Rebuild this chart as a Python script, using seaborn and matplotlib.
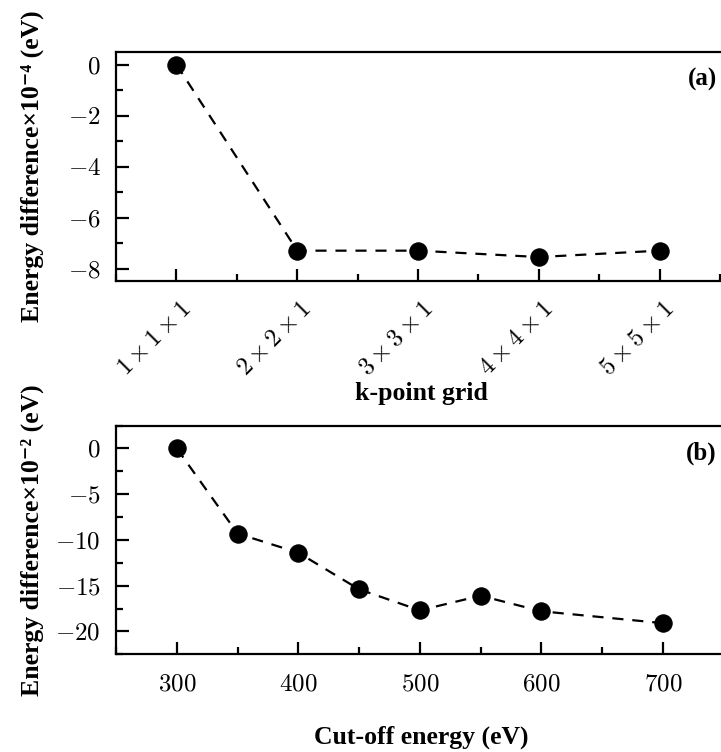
import matplotlib
matplotlib.use("Agg")
import matplotlib.pyplot as plt
import matplotlib.transforms as mtransforms
import numpy as np
import pandas as pd
import seaborn as sns
from matplotlib.ticker import MultipleLocator, FuncFormatter

# data
kgrid_labels = [r"$1\times1\times1$", r"$2\times2\times1$", r"$3\times3\times1$",
                r"$4\times4\times1$", r"$5\times5\times1$"]
kgrid_energy = [0.0, -7.3, -7.3, -7.55, -7.3]  # x 10^-4 eV
cutoff = [300, 350, 400, 450, 500, 550, 600, 700]
cutoff_energy = [0.0, -9.3, -11.4, -15.4, -17.7, -16.1, -17.8, -19.1]  # x 10^-2 eV

sns.set_style("ticks")
plt.rcParams["font.family"] = ["Liberation Serif", "DejaVu Serif"]
plt.rcParams["mathtext.fontset"] = "cm"
plt.rcParams["axes.linewidth"] = 1.6
for key in ("axes.edgecolor", "xtick.color", "ytick.color", "text.color",
            "axes.labelcolor"):
    plt.rcParams[key] = "black"

df_k = pd.DataFrame({"pos": np.arange(len(kgrid_labels)), "E": kgrid_energy})
df_c = pd.DataFrame({"cut": cutoff, "E": cutoff_energy})

fig = plt.figure(figsize=(7.21, 7.52), dpi=100)
ax1 = fig.add_axes([0.161, 0.626, 0.846, 0.305])
ax2 = fig.add_axes([0.161, 0.130, 0.846, 0.304])

line_kw = dict(color="black", linestyle=(0, (5, 4)), linewidth=1.6, marker="o",
               markersize=12.5, markeredgecolor="black", markerfacecolor="black")

sns.lineplot(data=df_k, x="pos", y="E", ax=ax1, **line_kw)
sns.lineplot(data=df_c, x="cut", y="E", ax=ax2, **line_kw)

math_fmt = FuncFormatter(lambda v, p: f"${v:g}$")

# panel (a)
ax1.set_xlim(-0.5, 4.55)
ax1.set_ylim(-8.5, 0.5)
ax1.set_xticks(df_k["pos"])
ax1.set_xticklabels(kgrid_labels, rotation=45, ha="right", va="center",
                    rotation_mode="anchor", fontsize=18)
ax1.xaxis.set_minor_locator(MultipleLocator(0.5))
ax1.yaxis.set_major_locator(MultipleLocator(2))
ax1.yaxis.set_minor_locator(MultipleLocator(1))
ax1.yaxis.set_major_formatter(math_fmt)
ax1.set_xlabel("k-point grid", fontsize=18.5, fontweight="bold")
ax1.set_ylabel("Energy difference×10⁻⁴ (eV)", fontsize=18.5, fontweight="bold")
ax1.xaxis.set_label_coords(0.5, -0.44)
ax1.yaxis.set_label_coords(-0.118, 0.5)
ax1.text(0.985, 0.88, "(a)", transform=ax1.transAxes, ha="right", va="center",
         fontsize=18, fontweight="bold")

# panel (b)
ax2.set_xlim(250, 752)
ax2.set_ylim(-22.5, 2.5)
ax2.xaxis.set_major_locator(MultipleLocator(100))
ax2.xaxis.set_minor_locator(MultipleLocator(50))
ax2.yaxis.set_major_locator(MultipleLocator(5))
ax2.yaxis.set_minor_locator(MultipleLocator(2.5))
ax2.xaxis.set_major_formatter(math_fmt)
ax2.yaxis.set_major_formatter(math_fmt)
ax2.set_xlabel("Cut-off energy (eV)", fontsize=18.5, fontweight="bold")
ax2.set_ylabel("Energy difference×10⁻² (eV)", fontsize=18.5, fontweight="bold")
ax2.xaxis.set_label_coords(0.5, -0.31)
ax2.yaxis.set_label_coords(-0.118, 0.5)
ax2.text(0.985, 0.88, "(b)", transform=ax2.transAxes, ha="right", va="center",
         fontsize=18, fontweight="bold")

for ax in (ax1, ax2):
    ax.tick_params(which="major", direction="in", length=9, width=1.6,
                   labelsize=18, pad=11)
    ax.tick_params(which="minor", direction="in", length=5, width=1.6)
    ax.tick_params(top=False, right=False, which="both")
    ax.spines["right"].set_visible(False)
    ax.spines["top"].set_visible(True)

ax1.tick_params(axis="x", which="major", pad=14)
ax2.tick_params(axis="x", which="major", pad=14)

# nudge rotated k-grid labels (after tick_params, which resets transforms)
shift = mtransforms.ScaledTranslation(11 / 100, -5 / 100, fig.dpi_scale_trans)
for tick in ax1.xaxis.get_major_ticks():
    tick.label1.set_transform(tick.label1.get_transform() + shift)

fig.savefig("out.png", dpi=100)
plt.close(fig)
